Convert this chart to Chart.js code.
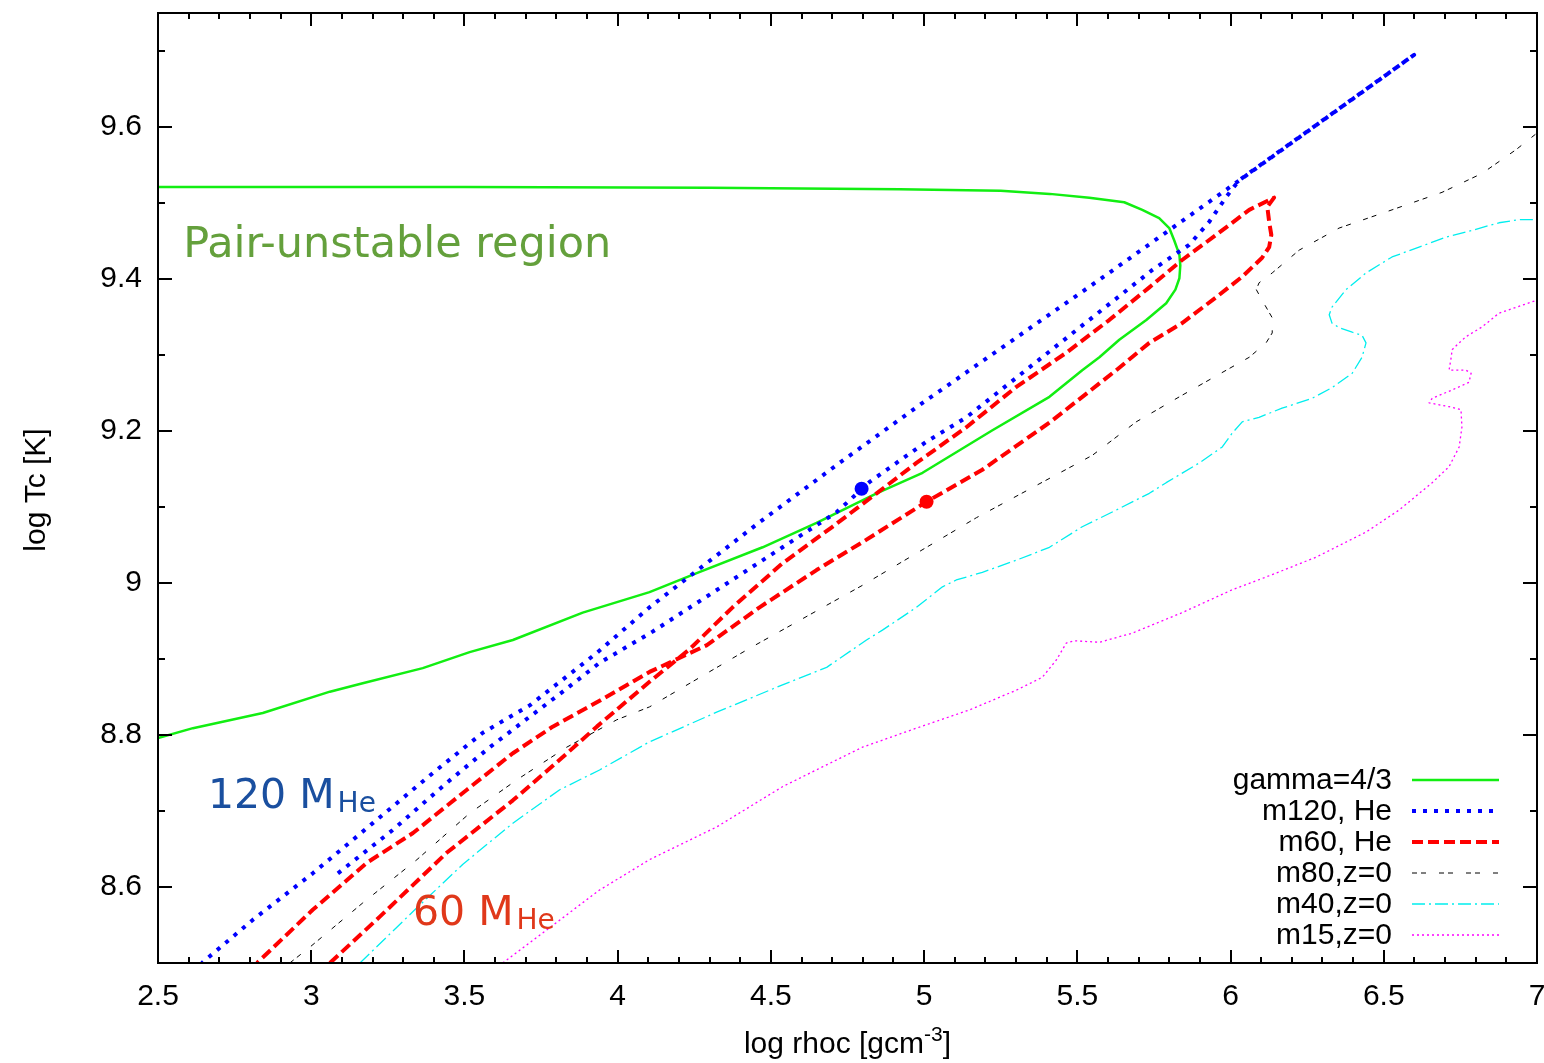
<!DOCTYPE html>
<html>
<head>
<meta charset="utf-8">
<title>log Tc vs log rhoc</title>
<script src="https://cdn.jsdelivr.net/npm/chart.js@4.4.1/dist/chart.umd.min.js"></script>
<style>
  html, body { margin: 0; padding: 0; background: #fff; }
  #wrap { width: 1544px; height: 1063px; }
</style>
</head>
<body>
<div id="wrap"><canvas id="tcChart" width="1544" height="1063"></canvas></div>
<script>
// tick labels
const rhoTicks = [2.5, 3, 3.5, 4, 4.5, 5, 5.5, 6, 6.5, 7];
const tempTicks = [8.6, 8.8, 9, 9.2, 9.4, 9.6];

// gamma = 4/3 boundary of the pair-unstable region
const gammaRho = [2.5, 2.614, 2.842, 3.061, 3.168, 3.364, 3.517, 3.658, 3.886, 4.104, 4.258, 4.473, 4.649, 4.845, 4.995, 5.223, 5.409, 5.516, 5.572, 5.637, 5.725, 5.790, 5.820, 5.833, 5.836, 5.833, 5.816, 5.800, 5.767, 5.712, 5.653, 5.539, 5.41, 5.25, 4.92, 4.6, 4.3, 3.5, 2.5];
const gammaT   = [8.796, 8.809, 8.829, 8.857, 8.868, 8.888, 8.909, 8.925, 8.961, 8.988, 9.013, 9.047, 9.079, 9.118, 9.145, 9.201, 9.245, 9.280, 9.297, 9.320, 9.346, 9.368, 9.386, 9.401, 9.418, 9.432, 9.451, 9.467, 9.480, 9.491, 9.501, 9.507, 9.512, 9.516, 9.518, 9.519, 9.520, 9.521, 9.521];

// m120 He core track
const m120Rho = [3.087, 3.266, 3.442, 3.583, 3.713, 3.821, 3.941, 4.114, 4.538, 4.714, 4.822, 5.008, 5.138, 5.745, 5.865, 5.930, 5.986, 6.028, 6.599, 6.061, 5.572, 4.995, 4.724, 4.463, 4.104, 3.932, 3.713, 3.560, 3.397, 3.201, 3.005, 2.810, 2.643];
const m120T   = [8.618, 8.675, 8.737, 8.784, 8.824, 8.857, 8.895, 8.936, 9.047, 9.093, 9.133, 9.186, 9.218, 9.412, 9.445, 9.475, 9.508, 9.530, 9.695, 9.539, 9.399, 9.237, 9.158, 9.080, 8.968, 8.908, 8.839, 8.803, 8.750, 8.684, 8.618, 8.557, 8.500];

// m60 He core track
const m60Rho = [3.061, 3.224, 3.442, 3.658, 3.821, 3.932, 4.104, 4.235, 4.375, 4.538, 4.701, 4.845, 4.975, 5.138, 5.301, 5.464, 5.604, 5.735, 5.842, 5.953, 6.061, 6.142, 6.120, 6.126, 6.133, 6.126, 6.103, 6.038, 5.953, 5.842, 5.735, 5.627, 5.409, 5.190, 5.008, 4.812, 4.649, 4.463, 4.290, 4.104, 3.932, 3.788, 3.658, 3.508, 3.332, 3.182, 3.005, 2.823];
const m60T   = [8.500, 8.561, 8.645, 8.714, 8.771, 8.811, 8.870, 8.913, 8.968, 9.026, 9.074, 9.118, 9.158, 9.205, 9.258, 9.303, 9.346, 9.389, 9.425, 9.458, 9.491, 9.507, 9.495, 9.475, 9.458, 9.442, 9.428, 9.403, 9.376, 9.342, 9.316, 9.280, 9.211, 9.149, 9.107, 9.057, 9.017, 8.968, 8.918, 8.883, 8.843, 8.811, 8.776, 8.728, 8.671, 8.632, 8.570, 8.500];

// z=0 models
const m80Rho = [2.930, 2.996, 3.168, 3.345, 3.517, 3.671, 3.834, 3.997, 4.104, 4.430, 4.799, 5.171, 5.549, 5.692, 5.833, 5.986, 6.061, 6.116, 6.136, 6.136, 6.103, 6.084, 6.093, 6.136, 6.224, 6.354, 6.527, 6.690, 6.821, 6.931, 7.0];
const m80T   = [8.500, 8.521, 8.579, 8.636, 8.697, 8.741, 8.784, 8.820, 8.837, 8.914, 8.997, 9.086, 9.168, 9.212, 9.245, 9.280, 9.297, 9.316, 9.329, 9.349, 9.372, 9.386, 9.395, 9.408, 9.438, 9.467, 9.491, 9.514, 9.539, 9.570, 9.592];

const m40Rho = [3.159, 3.338, 3.495, 3.658, 3.811, 3.941, 4.104, 4.323, 4.538, 4.682, 4.812, 4.864, 4.975, 5.060, 5.105, 5.190, 5.301, 5.409, 5.516, 5.627, 5.735, 5.790, 5.898, 5.973, 6.005, 6.038, 6.093, 6.168, 6.266, 6.331, 6.397, 6.429, 6.442, 6.429, 6.397, 6.354, 6.331, 6.322, 6.331, 6.377, 6.442, 6.527, 6.615, 6.703, 6.788, 6.876, 6.941, 7.0];
const m40T   = [8.500, 8.570, 8.630, 8.684, 8.728, 8.754, 8.791, 8.830, 8.866, 8.889, 8.925, 8.938, 8.968, 8.995, 9.004, 9.014, 9.030, 9.047, 9.074, 9.096, 9.118, 9.132, 9.158, 9.179, 9.197, 9.212, 9.218, 9.230, 9.243, 9.257, 9.276, 9.297, 9.316, 9.326, 9.330, 9.336, 9.342, 9.353, 9.363, 9.386, 9.408, 9.429, 9.442, 9.455, 9.464, 9.474, 9.478, 9.478];

const m15Rho = [3.625, 3.941, 4.104, 4.323, 4.538, 4.668, 4.799, 4.975, 5.148, 5.301, 5.386, 5.432, 5.464, 5.490, 5.572, 5.679, 5.842, 6.005, 6.136, 6.279, 6.442, 6.550, 6.658, 6.713, 6.746, 6.755, 6.752, 6.713, 6.648, 6.658, 6.723, 6.778, 6.785, 6.768, 6.713, 6.720, 6.723, 6.746, 6.768, 6.821, 6.876, 6.984, 7.0];
const m15T   = [8.500, 8.596, 8.636, 8.679, 8.732, 8.758, 8.784, 8.809, 8.833, 8.859, 8.876, 8.899, 8.921, 8.924, 8.922, 8.934, 8.961, 8.991, 9.011, 9.034, 9.067, 9.096, 9.132, 9.153, 9.179, 9.205, 9.228, 9.232, 9.237, 9.243, 9.254, 9.264, 9.276, 9.280, 9.280, 9.297, 9.307, 9.316, 9.324, 9.337, 9.355, 9.370, 9.372];

// marked models on the two He tracks
const m120MarkRho = [4.796];
const m120MarkT   = [9.124];
const m60MarkRho  = [5.008];
const m60MarkT    = [9.107];

const AXIS_FONT = '"Liberation Sans", Arial, Helvetica, sans-serif';
const NOTE_FONT = '"DejaVu Sans", Verdana, sans-serif';

function pairs(xs, ys) {
    return xs.map((x, i) => ({ x: x, y: ys[i] }));
}

function track(label, xs, ys, style, order) {
    return Object.assign({
        label: label,
        data: pairs(xs, ys),
        showLine: true,
        pointRadius: 0,
        pointHoverRadius: 0,
        tension: 0,
        fill: false,
        borderCapStyle: 'butt',
        borderJoinStyle: 'round',
        order: order
    }, style);
}

function mark(xs, ys, color) {
    return {
        label: '',
        data: pairs(xs, ys),
        showLine: false,
        pointRadius: 7,
        pointHoverRadius: 7,
        pointBackgroundColor: color,
        pointBorderWidth: 0,
        order: 0,
        inLegend: false
    };
}

const datasets = [
    track('gamma=4/3', gammaRho, gammaT, { borderColor: '#12ee12', borderWidth: 2.5, borderDash: [] }, 6),
    track('m120, He', m120Rho, m120T, { borderColor: '#0000ff', borderWidth: 4, borderDash: [4, 7] }, 5),
    track('m60, He', m60Rho, m60T, { borderColor: '#ff0000', borderWidth: 4, borderDash: [11, 5] }, 4),
    track('m80,z=0', m80Rho, m80T, { borderColor: '#000000', borderWidth: 1, borderDash: [5, 4, 5, 13] }, 3),
    track('m40,z=0', m40Rho, m40T, { borderColor: '#00eeee', borderWidth: 1.3, borderDash: [13, 4, 2, 4] }, 2),
    track('m15,z=0', m15Rho, m15T, { borderColor: '#ff00ff', borderWidth: 1.3, borderDash: [2, 3] }, 1),
    mark(m120MarkRho, m120MarkT, '#0000ff'),
    mark(m60MarkRho, m60MarkT, '#ff0000')
];

// frame, inward ticks, axis titles, key and labels
const decorations = {
    id: 'decorations',
    afterDatasetsDraw(chart) {
        const ctx = chart.ctx;
        const ca = chart.chartArea;
        const xs = chart.scales.x;
        const ys = chart.scales.y;
        ctx.save();

        ctx.strokeStyle = '#000';
        ctx.lineWidth = 2;
        ctx.setLineDash([]);
        ctx.strokeRect(ca.left, ca.top, ca.right - ca.left, ca.bottom - ca.top);

        ctx.beginPath();
        for (let i = 0; i <= 45; i++) {
            const px = Math.round(xs.getPixelForValue(2.5 + i * 0.1));
            const len = i % 5 === 0 ? 13 : 6;
            ctx.moveTo(px, ca.bottom); ctx.lineTo(px, ca.bottom - len);
            ctx.moveTo(px, ca.top); ctx.lineTo(px, ca.top + len);
        }
        for (let i = 0; i <= 12; i++) {
            const py = Math.round(ys.getPixelForValue(8.5 + i * 0.1));
            const len = i % 2 === 1 ? 14 : 7;
            ctx.moveTo(ca.left, py); ctx.lineTo(ca.left + len, py);
            ctx.moveTo(ca.right, py); ctx.lineTo(ca.right - len, py);
        }
        ctx.stroke();

        // axis titles
        ctx.fillStyle = '#000';
        ctx.textBaseline = 'alphabetic';
        const cx = (ca.left + ca.right) / 2;
        const base = ca.bottom + 90;
        ctx.font = '30px ' + AXIS_FONT;
        const w1 = ctx.measureText('log rhoc [gcm').width;
        const w3 = ctx.measureText(']').width;
        ctx.font = '21px ' + AXIS_FONT;
        const w2 = ctx.measureText('-3').width;
        let tx = cx - (w1 + w2 + w3) / 2;
        ctx.textAlign = 'left';
        ctx.font = '30px ' + AXIS_FONT;
        ctx.fillText('log rhoc [gcm', tx, base);
        ctx.font = '21px ' + AXIS_FONT;
        ctx.fillText('-3', tx + w1, base - 12);
        ctx.font = '30px ' + AXIS_FONT;
        ctx.fillText(']', tx + w1 + w2, base);

        ctx.save();
        ctx.translate(45, 490);
        ctx.rotate(-Math.PI / 2);
        ctx.textAlign = 'center';
        ctx.fillText('log Tc [K]', 0, 0);
        ctx.restore();

        // key
        const keyRight = ca.right - 145;
        const lineFrom = ca.right - 125;
        const lineTo = ca.right - 38;
        let rowY = ca.bottom - 183;
        ctx.font = '30px ' + AXIS_FONT;
        ctx.textAlign = 'right';
        ctx.textBaseline = 'middle';
        chart.data.datasets.forEach(ds => {
            if (ds.inLegend === false) return;
            ctx.fillStyle = '#000';
            ctx.fillText(ds.label, keyRight, rowY + 1);
            ctx.beginPath();
            ctx.strokeStyle = ds.borderColor;
            ctx.lineWidth = ds.borderWidth;
            ctx.lineCap = 'butt';
            ctx.setLineDash(ds.borderDash);
            ctx.moveTo(lineFrom, rowY);
            ctx.lineTo(lineTo, rowY);
            ctx.stroke();
            rowY += 31;
        });
        ctx.setLineDash([]);

        // region and mass labels
        ctx.textAlign = 'left';
        ctx.textBaseline = 'alphabetic';
        ctx.fillStyle = '#64a03c';
        ctx.font = '43px ' + NOTE_FONT;
        ctx.fillText('Pair-unstable region', xs.getPixelForValue(2.582), ys.getPixelForValue(9.429));

        function massLabel(text, rho, t, color) {
            const lx = xs.getPixelForValue(rho);
            const ly = ys.getPixelForValue(t);
            ctx.fillStyle = color;
            ctx.font = '41px ' + NOTE_FONT;
            ctx.fillText(text, lx, ly);
            const w = ctx.measureText(text).width;
            ctx.font = '28px ' + NOTE_FONT;
            ctx.fillText('He', lx + w + 3, ly + 4);
        }
        massLabel('120 M', 2.663, 8.704, '#1a4f9f');
        massLabel('60 M', 3.332, 8.550, '#e0381a');

        ctx.restore();
    }
};

new Chart(document.getElementById('tcChart'), {
    type: 'scatter',
    data: { datasets: datasets },
    options: {
        responsive: false,
        animation: false,
        devicePixelRatio: 1,
        layout: { padding: { top: 13, right: 6, left: 0, bottom: 0 } },
        plugins: { legend: { display: false }, tooltip: { enabled: false } },
        scales: {
            x: {
                type: 'linear',
                min: 2.5,
                max: 7,
                grid: { display: false, drawTicks: false },
                border: { display: false },
                afterBuildTicks: axis => { axis.ticks = rhoTicks.map(v => ({ value: v })); },
                afterFit: axis => { axis.height = 100; axis.paddingLeft = 0; axis.paddingRight = 0; },
                ticks: {
                    padding: 16,
                    autoSkip: false,
                    maxRotation: 0,
                    color: '#000',
                    font: { family: AXIS_FONT, size: 30 },
                    callback: v => String(+v.toFixed(2))
                }
            },
            y: {
                type: 'linear',
                min: 8.5,
                max: 9.75,
                grid: { display: false, drawTicks: false },
                border: { display: false },
                afterBuildTicks: axis => { axis.ticks = tempTicks.map(v => ({ value: v })); },
                afterFit: axis => { axis.width = 158; axis.paddingTop = 0; axis.paddingBottom = 0; },
                ticks: {
                    padding: 16,
                    autoSkip: false,
                    color: '#000',
                    font: { family: AXIS_FONT, size: 30 },
                    callback: v => String(+v.toFixed(2))
                }
            }
        }
    },
    plugins: [decorations]
});
</script>
</body>
</html>
